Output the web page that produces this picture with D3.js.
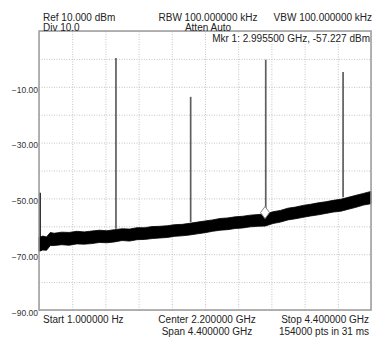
<!DOCTYPE html>
<html>
<head>
<meta charset="utf-8">
<script src="https://cdn.jsdelivr.net/npm/d3@7"></script>
<style>
  html, body { margin: 0; padding: 0; background: #fff; }
  svg { display: block; font-family: "Liberation Sans", Arial, sans-serif; }
</style>
</head>
<body>
<svg id="chart" width="378" height="337"></svg>
<script>
// Spectrum analyser sweep, 1 Hz to 4.4 GHz, reference 10 dBm, 10 dB/div.

// Frequency span (GHz) and amplitude range (dBm)
const spanGHz = [0, 4.4];
const levelRange = [-90, 10];

// Amplitude labels on the left edge
const levelLabels = [-10, -30, -50, -70, -90];

// Noise floor envelope: frequency (GHz), upper edge and lower edge (dBm)
const floorFreq = [0.00, 0.01, 0.05, 0.10, 0.15, 0.20, 0.30, 0.40, 0.50, 0.60,
                   0.70, 0.80, 0.90, 1.00, 1.10, 1.20, 1.30, 1.40, 1.50, 1.60,
                   1.70, 1.80, 1.90, 2.00, 2.10, 2.20, 2.30, 2.40, 2.50, 2.60,
                   2.70, 2.80, 2.90, 3.00, 3.10, 3.20, 3.30, 3.40, 3.50, 3.60,
                   3.70, 3.80, 3.90, 4.00, 4.10, 4.20, 4.30, 4.40];
const floorTop =  [-63.9, -63.9, -63.5, -63.8, -62.2, -62.5, -62.1, -62.2, -61.8, -62.0,
                   -61.7, -61.4, -61.6, -61.2, -60.9, -61.0, -60.5, -60.5, -60.1, -60.0,
                   -59.8, -59.4, -59.3, -58.9, -58.5, -58.1, -57.7, -57.2, -57.0, -56.6,
                   -56.4, -56.0, -55.8, -55.6, -54.8, -54.3, -53.5, -53.1, -52.5, -52.1,
                   -51.6, -51.2, -50.7, -50.3, -49.6, -48.9, -48.2, -47.5];
const floorBottom=[-68.9, -68.9, -68.5, -68.6, -66.9, -66.9, -66.6, -66.8, -66.3, -66.4,
                   -66.2, -65.8, -65.9, -65.6, -65.1, -65.3, -64.8, -64.7, -64.4, -64.2,
                   -64.0, -63.6, -63.4, -63.1, -62.7, -62.3, -61.8, -61.4, -61.2, -60.8,
                   -60.6, -60.2, -60.0, -59.9, -59.0, -58.5, -57.7, -57.3, -56.8, -56.3,
                   -55.9, -55.4, -54.9, -54.6, -53.9, -53.2, -52.4, -51.9];

// Level at the 1 Hz start of the sweep (dBm)
const startLevel = -48.0;

// Discrete signals: frequency (GHz) and peak level (dBm)
const spikeFreq = [1.02, 2.01, 3.005, 4.03];
const spikePeak = [0.3, -13.6, -0.3, -4.7];

// Marker 1
const markerFreq = 2.9955;
const markerLevel = -57.227;

// Annotation text
const headerLeft = ["Ref 10.000 dBm", "Div 10.0"];
const headerMid = ["RBW 100.000000 kHz", "Atten Auto"];
const headerRight = ["VBW 100.000000 kHz"];
const markerText = "Mkr 1: 2.995500 GHz, -57.227 dBm";
const footerLeft = ["Start 1.000000 Hz"];
const footerMid = ["Center 2.200000 GHz", "Span 4.400000 GHz"];
const footerRight = ["Stop 4.400000 GHz", "154000 pts in 31 ms"];

const svg = d3.select("#chart");
const plot = { left: 39, right: 371, top: 31, bottom: 310 };

const x = d3.scaleLinear().domain(spanGHz).range([plot.left, plot.right]);
const y = d3.scaleLinear().domain(levelRange).range([plot.bottom, plot.top]);

// Graticule: 10 x 10 dotted divisions
const gridX = d3.range(11).map(i => spanGHz[0] + i * (spanGHz[1] - spanGHz[0]) / 10);
const gridY = d3.range(11).map(i => levelRange[0] + i * 10);

svg.append("g")
  .attr("transform", `translate(0,${plot.bottom})`)
  .call(d3.axisBottom(x).tickValues(gridX).tickSize(-(plot.bottom - plot.top)).tickFormat(""))
  .call(g => g.select(".domain").remove())
  .call(g => g.selectAll("line").attr("stroke", "#c4c4c4").attr("stroke-dasharray", "1,1.5"));

svg.append("g")
  .attr("transform", `translate(${plot.left},0)`)
  .call(d3.axisLeft(y).tickValues(gridY).tickSize(-(plot.right - plot.left)).tickFormat(""))
  .call(g => g.select(".domain").remove())
  .call(g => g.selectAll("line").attr("stroke", "#c4c4c4").attr("stroke-dasharray", "1,1.5"));

// Amplitude labels
svg.append("g")
  .attr("transform", `translate(${plot.left},0)`)
  .call(d3.axisLeft(y).tickValues(levelLabels).tickSize(0).tickPadding(1).tickFormat(d3.format(".2f")))
  .call(g => g.select(".domain").remove())
  .call(g => g.selectAll("text")
    .attr("font-family", "Liberation Sans, Arial, sans-serif")
    .attr("font-size", 8.5)
    .attr("fill", "#333")
    .attr("dy", "0.62em"));

// Noise floor band
const floor = floorFreq.map((f, i) => ({ f, top: floorTop[i], bottom: floorBottom[i] }));
svg.append("path")
  .datum(floor)
  .attr("fill", "#000")
  .attr("stroke", "#000")
  .attr("stroke-width", 0.8)
  .attr("d", d3.area()
    .x(d => x(d.f))
    .y0(d => y(d.bottom))
    .y1(d => y(d.top)));

// Rise at the start of the sweep
svg.append("line")
  .attr("x1", x(spanGHz[0]) + 1).attr("x2", x(spanGHz[0]) + 1)
  .attr("y1", y(floorTop[0])).attr("y2", y(startLevel))
  .attr("stroke", "#000").attr("stroke-width", 1.6);

// Signal spikes rising from the noise floor
const floorAt = f => {
  const i = d3.bisectLeft(floorFreq, f);
  return floorTop[Math.min(i, floorTop.length - 1)];
};
svg.append("g")
  .selectAll("line")
  .data(spikeFreq.map((f, i) => ({ f, peak: spikePeak[i] })))
  .join("line")
  .attr("x1", d => x(d.f))
  .attr("x2", d => x(d.f))
  .attr("y1", d => y(floorAt(d.f)))
  .attr("y2", d => y(d.peak))
  .attr("stroke", "#5e5e5e")
  .attr("stroke-width", 1.7);

// Marker diamond, lower tip on the marked point
const mx = x(markerFreq), my = y(markerLevel);
svg.append("path")
  .attr("d", `M${mx},${my} L${mx + 4.5},${my - 6} L${mx},${my - 12} L${mx - 4.5},${my - 6} Z`)
  .attr("fill", "#fff")
  .attr("stroke", "#888")
  .attr("stroke-width", 1);

// Frame
svg.append("rect")
  .attr("x", plot.left).attr("y", plot.top)
  .attr("width", plot.right - plot.left).attr("height", plot.bottom - plot.top)
  .attr("fill", "none")
  .attr("stroke", "#9a9a9a")
  .attr("stroke-width", 1.5);

// Marker readout
svg.append("rect")
  .attr("x", 212).attr("y", 32.5)
  .attr("width", plot.right - 212 - 1).attr("height", 11)
  .attr("fill", "#fff");
svg.append("text")
  .attr("x", 370).attr("y", 41.5)
  .attr("text-anchor", "end")
  .attr("font-size", 10).attr("fill", "#222")
  .text(markerText);

// Header and footer annotations
const textRows = [
  { lines: headerLeft, x: 43, y0: 20.5, anchor: "start" },
  { lines: headerMid, x: 208, y0: 20.5, anchor: "middle" },
  { lines: headerRight, x: 372, y0: 20.5, anchor: "end" },
  { lines: footerLeft, x: 43, y0: 323, anchor: "start" },
  { lines: footerMid, x: 207, y0: 323, anchor: "middle" },
  { lines: footerRight, x: 369, y0: 323, anchor: "end" }
];
textRows.forEach(row => {
  svg.append("g")
    .selectAll("text")
    .data(row.lines)
    .join("text")
    .attr("x", row.x)
    .attr("y", (d, i) => row.y0 + i * (row.y0 < 100 ? 10 : 12))
    .attr("text-anchor", row.anchor)
    .attr("font-size", 10)
    .attr("fill", "#222")
    .text(d => d);
});
</script>
</body>
</html>
